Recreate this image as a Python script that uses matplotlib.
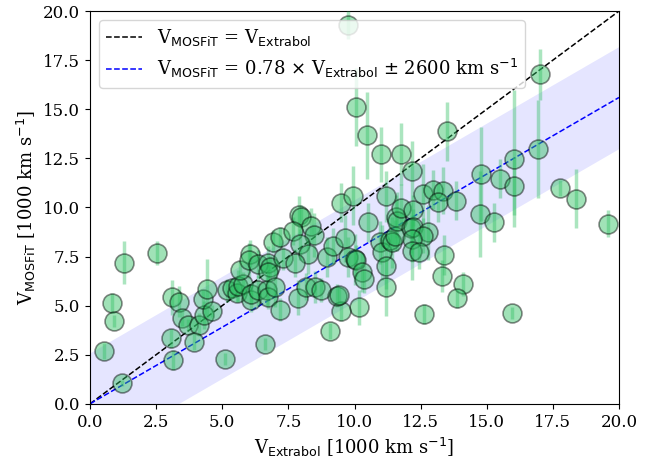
import numpy as np
import matplotlib
matplotlib.use('Agg')
import matplotlib.pyplot as plt

plt.rcParams['font.family'] = 'DejaVu Serif'
plt.rcParams['mathtext.fontset'] = 'dejavusans'

# velocities in 1000 km/s
v_extrabol = [0.53, 1.2, 0.84, 0.92, 1.3, 2.52, 3.11, 3.38, 3.49, 3.72,
              3.06, 3.15, 4.13, 3.92, 4.32, 4.28, 4.43, 4.62, 5.10, 5.17,
              5.35, 5.55, 5.6, 5.8, 5.67, 6.05, 6.0, 6.07, 6.1, 6.36,
              6.62, 6.36, 6.74, 6.8, 6.73, 6.68, 6.74, 6.99, 7.2, 7.87,
              8.18, 8.5, 8.75, 6.93, 7.18, 7.9, 7.97, 8.36, 7.69, 8.48,
              7.94, 8.25, 7.3, 7.75, 8.95, 9.2, 9.64, 9.76, 10.0, 10.05,
              10.3, 10.37, 10.52, 10.95, 11.03, 11.18, 11.35, 11.41, 11.53, 11.57,
              11.6, 11.74, 12.22, 12.14, 12.2, 12.79, 12.6, 12.16, 12.16, 12.44,
              13.4, 13.3, 11.2, 12.64, 10.18, 9.49, 9.33, 9.4, 9.07, 9.74,
              10.04, 10.47, 11.0, 11.74, 12.16, 9.48, 9.93, 11.2, 12.6, 12.98,
              13.36, 13.17, 13.5, 17.01, 16.95, 16.04, 14.78, 15.5, 16.04, 17.77,
              18.36, 13.84, 14.74, 15.27, 19.57, 14.11, 13.89, 15.94]
v_mosfit = [2.70, 1.07, 5.14, 4.23, 7.18, 7.67, 5.42, 5.2, 4.37, 4.03,
            3.33, 2.24, 4.03, 3.13, 4.52, 5.32, 5.85, 4.74, 2.28, 5.77,
            5.89, 5.66, 6.0, 6.12, 6.79, 7.65, 7.3, 5.3, 5.6, 5.77,
            3.05, 7.13, 7.16, 6.95, 6.7, 5.77, 5.43, 5.94, 4.8, 5.4,
            5.97, 5.95, 5.8, 8.26, 8.5, 9.6, 9.5, 9.06, 8.8, 8.6,
            8.12, 7.63, 7.41, 7.16, 7.47, 8.04, 8.43, 7.47, 7.37, 7.3,
            6.69, 6.35, 9.25, 8.23, 7.72, 7.04, 8.32, 8.23, 8.57, 9.52,
            9.3, 9.98, 9.85, 8.97, 9.02, 8.74, 8.57, 8.4, 7.8, 7.74,
            7.58, 6.5, 5.95, 4.57, 4.91, 4.74, 5.51, 5.55, 3.72, 19.29,
            15.12, 13.67, 12.72, 12.72, 11.86, 10.25, 10.6, 10.58, 10.7, 10.9,
            10.85, 10.26, 13.89, 16.79, 12.96, 12.48, 11.72, 11.46, 11.09, 10.98,
            10.45, 10.35, 9.68, 9.25, 9.17, 6.11, 5.37, 4.61]
v_err = [0.4, 0.15, 0.5, 0.3, 1.1, 0.6, 0.9, 0.8, 0.4, 0.3,
         0.5, 0.5, 0.6, 0.4, 0.7, 0.5, 1.5, 0.3, 0.3, 0.6,
         0.5, 0.5, 0.8, 0.6, 0.5, 0.7, 0.9, 0.6, 0.5, 0.8,
         0.3, 0.7, 0.9, 0.6, 0.5, 0.8, 0.6, 1.0, 0.6, 0.9,
         0.7, 0.8, 0.6, 0.6, 0.5, 1.0, 0.6, 0.9, 0.7, 1.1,
         0.8, 1.0, 0.6, 0.7, 1.0, 0.9, 1.2, 1.0, 1.3, 0.8,
         1.0, 0.7, 1.0, 1.1, 1.4, 1.2, 0.9, 1.3, 0.8, 1.1,
         1.5, 1.2, 0.8, 1.3, 0.9, 1.4, 0.9, 1.2, 1.5, 0.9,
         1.0, 0.8, 1.5, 0.5, 0.9, 0.5, 0.6, 0.4, 0.4, 0.7,
         2.0, 2.2, 1.4, 1.6, 1.5, 1.0, 1.5, 1.3, 1.5, 1.0,
         1.2, 1.0, 1.5, 1.3, 2.5, 3.5, 2.4, 1.0, 1.5, 0.4,
         1.5, 1.0, 2.2, 1.0, 0.7, 0.6, 0.5, 0.3]

slope = 0.78
scatter = 2.6

fig = plt.figure(figsize=(6.62, 4.62), dpi=100)
ax = fig.add_axes([0.136, 0.126, 0.799, 0.850])

xx = np.array([0, 20])
ax.fill_between(xx, slope * xx - scatter, slope * xx + scatter,
                color='b', alpha=0.1, lw=0)
ax.plot(xx, xx, 'k--', lw=1.1,
        label=r'V$_{\rm MOSFiT}$ = V$_{\rm Extrabol}$')
ax.plot(xx, slope * xx, 'b--', lw=1.1,
        label=r'V$_{\rm MOSFiT}$ = 0.78 $\times$ V$_{\rm Extrabol}$ $\pm$ 2600 km s$^{-1}$')

green = (0.18, 0.75, 0.38)
ax.errorbar(v_extrabol, v_mosfit, yerr=v_err, fmt='none',
            ecolor=green, elinewidth=2.5, alpha=0.4, zorder=3)
ax.scatter(v_extrabol, v_mosfit, s=185, facecolor=green, alpha=0.45,
           edgecolor='k', linewidth=1.2, zorder=4)

ax.set_xlim(0, 20)
ax.set_ylim(0, 20)
ax.set_xticks(np.arange(0, 20.1, 2.5))
ax.set_yticks(np.arange(0, 20.1, 2.5))
ax.tick_params(labelsize=12)
ax.set_xlabel(r'V$_{\rm Extrabol}$ [1000 km s$^{-1}$]', fontsize=13)
ax.set_ylabel(r'V$_{\rm MOSFiT}$ [1000 km s$^{-1}$]', fontsize=13)
ax.legend(loc='upper left', fontsize=13)

fig.savefig('out.png', dpi=100)
